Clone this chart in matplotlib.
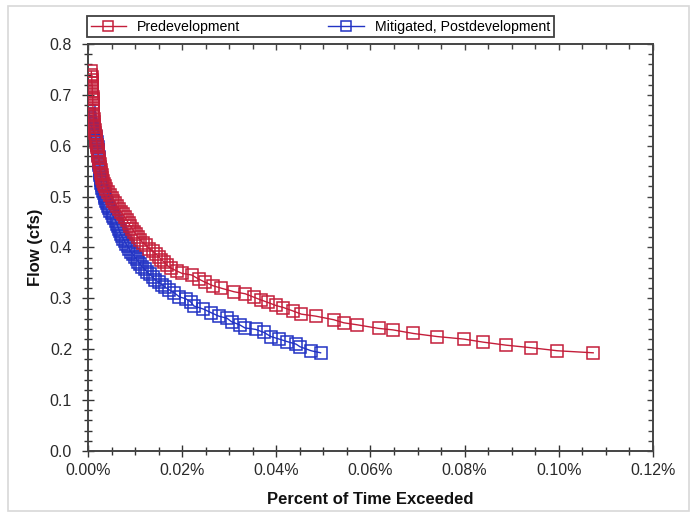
import matplotlib
matplotlib.use("Agg")
import matplotlib.pyplot as plt
from matplotlib.patches import Rectangle
from matplotlib.ticker import MultipleLocator, FuncFormatter

plt.rcParams['font.family'] = ['Liberation Sans', 'DejaVu Sans']

# ---- Data ----
# percent of time exceeded (%) and flow (cfs)

pre_pct = [0.0007, 0.0007, 0.0008, 0.0008, 0.0008, 0.0009, 0.0009, 0.0009, 0.0009, 0.0010,
           0.0010, 0.0010, 0.0010, 0.0011, 0.0011, 0.0011, 0.0011, 0.0012, 0.0012, 0.0012,
           0.0013, 0.0014, 0.0015, 0.0016, 0.0017, 0.0018, 0.0019, 0.0020, 0.0021, 0.0021,
           0.0022, 0.0023, 0.0024, 0.0025, 0.0026, 0.0027, 0.0028, 0.0029, 0.0030, 0.0032,
           0.0034, 0.0036, 0.0039, 0.0042, 0.0046, 0.0050, 0.0054, 0.0058, 0.0062, 0.0066,
           0.0070, 0.0074, 0.0078, 0.0082, 0.0086, 0.0090, 0.0094, 0.0098, 0.0102, 0.0106,
           0.0111, 0.0117, 0.0123, 0.0130, 0.0137, 0.0144, 0.0150, 0.0156, 0.0162, 0.0168,
           0.0177, 0.0188, 0.0200, 0.0220, 0.0235, 0.0248, 0.0265, 0.0283, 0.0310, 0.0334,
           0.0353, 0.0367, 0.0382, 0.0399, 0.0415, 0.0436, 0.0453, 0.0484, 0.0522, 0.0543,
           0.0572, 0.0617, 0.0648, 0.0691, 0.0741, 0.0798, 0.0839, 0.0888, 0.0941, 0.0997,
           0.1073]
pre_flow = [0.746, 0.740, 0.735, 0.729, 0.724, 0.718, 0.713, 0.707, 0.702, 0.696,
            0.691, 0.685, 0.680, 0.674, 0.669, 0.663, 0.658, 0.652, 0.647, 0.641,
            0.636, 0.630, 0.625, 0.619, 0.614, 0.608, 0.602, 0.597, 0.591, 0.586,
            0.580, 0.575, 0.569, 0.564, 0.558, 0.553, 0.547, 0.542, 0.536, 0.531,
            0.525, 0.520, 0.514, 0.509, 0.503, 0.498, 0.492, 0.487, 0.481, 0.476,
            0.470, 0.465, 0.459, 0.454, 0.448, 0.442, 0.437, 0.431, 0.426, 0.420,
            0.415, 0.409, 0.404, 0.398, 0.393, 0.387, 0.382, 0.376, 0.371, 0.365,
            0.359, 0.354, 0.349, 0.346, 0.338, 0.332, 0.325, 0.320, 0.313, 0.309,
            0.302, 0.297, 0.292, 0.286, 0.282, 0.275, 0.269, 0.265, 0.258, 0.252,
            0.248, 0.241, 0.238, 0.231, 0.225, 0.220, 0.214, 0.208, 0.203, 0.197,
            0.193]

post_pct = [0.0002, 0.0003, 0.0003, 0.0004, 0.0005, 0.0006, 0.0008, 0.0010, 0.0012, 0.0014,
            0.0016, 0.0018, 0.0019, 0.0020, 0.0021, 0.0021, 0.0022, 0.0022, 0.0023, 0.0023,
            0.0024, 0.0024, 0.0025, 0.0025, 0.0026, 0.0026, 0.0027, 0.0028, 0.0028, 0.0029,
            0.0030, 0.0031, 0.0033, 0.0035, 0.0037, 0.0039, 0.0041, 0.0043, 0.0045, 0.0047,
            0.0050, 0.0053, 0.0056, 0.0059, 0.0061, 0.0063, 0.0065, 0.0067, 0.0069, 0.0072,
            0.0075, 0.0078, 0.0081, 0.0084, 0.0088, 0.0091, 0.0095, 0.0099, 0.0103, 0.0107,
            0.0111, 0.0115, 0.0120, 0.0125, 0.0131, 0.0137, 0.0143, 0.0150, 0.0157, 0.0164,
            0.0172, 0.0183, 0.0194, 0.0208, 0.0218, 0.0225, 0.0245, 0.0261, 0.0278, 0.0295,
            0.0305, 0.0322, 0.0333, 0.0356, 0.0374, 0.0388, 0.0406, 0.0423, 0.0442, 0.0450,
            0.0474, 0.0494]
post_flow = [0.668, 0.662, 0.657, 0.652, 0.647, 0.642, 0.637, 0.632, 0.627, 0.622,
             0.617, 0.612, 0.607, 0.602, 0.597, 0.592, 0.587, 0.582, 0.577, 0.572,
             0.567, 0.562, 0.557, 0.552, 0.547, 0.542, 0.537, 0.532, 0.527, 0.522,
             0.517, 0.512, 0.507, 0.502, 0.497, 0.492, 0.487, 0.482, 0.477, 0.472,
             0.467, 0.462, 0.457, 0.452, 0.447, 0.442, 0.437, 0.432, 0.427, 0.422,
             0.417, 0.412, 0.407, 0.402, 0.397, 0.392, 0.387, 0.382, 0.377, 0.372,
             0.367, 0.362, 0.357, 0.352, 0.347, 0.342, 0.337, 0.332, 0.327, 0.322,
             0.317, 0.311, 0.303, 0.299, 0.293, 0.285, 0.279, 0.272, 0.265, 0.261,
             0.254, 0.248, 0.242, 0.239, 0.233, 0.225, 0.220, 0.215, 0.210, 0.205,
             0.197, 0.193]

series_labels = ['Predevelopment', 'Mitigated, Postdevelopment']
series_colors = ['#c41e3a', '#2233c4']
series_zorder = [3, 2]   # red squares sit on top where the curves overlap

# ---- Figure ----

fig = plt.figure(figsize=(6.92, 5.14), dpi=100)
ax = fig.add_axes([0.1272, 0.1226, 0.8164, 0.7918])

# light outer frame like the exported chart
fig.patches.append(Rectangle((0.011, 0.006), 0.984, 0.982, transform=fig.transFigure,
                             fill=False, edgecolor='#d8d8d8', linewidth=1.2))

for pct, flow, label, color, z in zip([pre_pct, post_pct], [pre_flow, post_flow],
                                      series_labels, series_colors, series_zorder):
    ax.plot(pct, flow, color=color, linewidth=1.0, marker='s', markersize=8,
            markerfacecolor='none', markeredgecolor=color, markeredgewidth=1.1,
            label=label, zorder=z)

ax.set_xlim(0, 0.12)
ax.set_ylim(0, 0.8)

ax.xaxis.set_major_locator(MultipleLocator(0.02))
ax.xaxis.set_minor_locator(MultipleLocator(0.005))
ax.yaxis.set_major_locator(MultipleLocator(0.1))
ax.yaxis.set_minor_locator(MultipleLocator(0.02))
ax.xaxis.set_major_formatter(FuncFormatter(lambda v, p: f'{v:.2f}%'))
ax.yaxis.set_major_formatter(FuncFormatter(lambda v, p: f'{v:.1f}'))

ax.tick_params(which='major', direction='inout', length=9, width=1.0,
               colors='#333333', labelcolor='#2a2a2a', labelsize=11.5)
ax.tick_params(axis='x', which='major', pad=4)
ax.tick_params(axis='y', which='major', pad=7)
ax.tick_params(which='minor', direction='inout', length=5.5, width=1.0, colors='#333333')

for spine in ax.spines.values():
    spine.set_color('#444444')
    spine.set_linewidth(1.4)

# inward ticks on the right and top edges
right = ax.secondary_yaxis('right')
right.yaxis.set_major_locator(MultipleLocator(0.1))
right.yaxis.set_minor_locator(MultipleLocator(0.02))
right.tick_params(which='major', direction='in', length=4.5, width=1.0, colors='#444444',
                  labelright=False)
right.tick_params(which='minor', direction='in', length=3.5, width=1.0, colors='#444444')
right.spines['right'].set_visible(False)

top = ax.secondary_xaxis('top')
top.xaxis.set_major_locator(MultipleLocator(0.02))
top.xaxis.set_minor_locator(MultipleLocator(0.005))
top.tick_params(which='major', direction='in', length=4.5, width=1.0, colors='#444444',
                labeltop=False)
top.tick_params(which='minor', direction='in', length=3.5, width=1.0, colors='#444444')
top.spines['top'].set_visible(False)

ax.set_xlabel('Percent of Time Exceeded', fontsize=12, fontweight='bold',
              color='#111111', labelpad=10)
ax.set_ylabel('Flow (cfs)', fontsize=12, fontweight='bold', color='#111111', labelpad=5)

legend = fig.legend(loc='upper left', bbox_to_anchor=(87 / 692, 1 - 16 / 514),
                    bbox_transform=fig.transFigure, ncol=2,
                    fontsize=10.2, frameon=True, fancybox=False, borderpad=0.25,
                    handlelength=2.5, handletextpad=0.8, columnspacing=6.2,
                    borderaxespad=0, markerscale=0.85)
legend.get_frame().set_edgecolor('#111111')
legend.get_frame().set_linewidth(1.3)

fig.savefig('out.png', dpi=100)
